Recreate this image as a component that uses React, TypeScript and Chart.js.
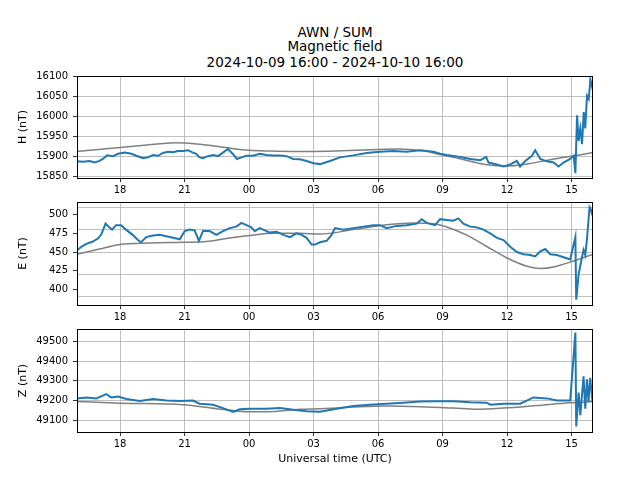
import { useEffect, useRef } from "react"
import { Chart, registerables } from "chart.js"

Chart.register(...registerables)

// hours after 2024-10-09 16:00 UTC
const tickHours = [2, 5, 8, 11, 14, 17, 20, 23]
const tickLabels = ["18", "21", "00", "03", "06", "09", "12", "15"]

const hTicks = [15850, 15900, 15950, 16000, 16050, 16100]
const eTicks = [400, 425, 450, 475, 500]
const eGrid = [390, 420, 450, 480, 510]
const zTicks = [49100, 49200, 49300, 49400, 49500]

const hTimes = [0, 0.28, 0.59, 0.82, 1.05, 1.2, 1.4, 1.68, 1.91, 2.22, 2.53, 2.76, 3.07, 3.3, 3.54, 3.77, 4.0, 4.23, 4.47, 4.7, 4.93, 5.16, 5.39, 5.55, 5.7, 5.86, 6.09, 6.33, 6.56, 6.79, 7.02, 7.26, 7.44, 7.65, 7.88, 8.19, 8.5, 8.82, 9.13, 9.44, 9.75, 10.06, 10.37, 10.68, 11.0, 11.3, 11.77, 12.23, 12.85, 13.47, 14.09, 14.71, 15.33, 15.96, 16.58, 16.89, 17.2, 17.82, 18.29, 18.76, 19.03, 19.14, 19.53, 19.84, 20.15, 20.46, 20.61, 20.85, 21.16, 21.31, 21.55, 21.86, 22.17, 22.4, 22.63, 22.94, 23.1, 23.18, 23.26, 23.33, 23.41, 23.49, 23.57, 23.64, 23.72, 23.8, 23.88, 23.95, 24]
const hValues = [15887, 15886, 15888, 15884, 15888, 15893, 15902, 15900, 15906, 15909, 15906, 15901, 15895, 15897, 15903, 15901, 15908, 15911, 15910, 15913, 15913, 15915, 15909, 15906, 15897, 15895, 15900, 15903, 15900, 15909, 15918, 15905, 15893, 15897, 15901, 15901, 15906, 15903, 15902, 15902, 15900, 15893, 15892, 15888, 15882, 15880, 15888, 15897, 15902, 15908, 15911, 15913, 15911, 15915, 15911, 15906, 15903, 15898, 15893, 15890, 15898, 15884, 15879, 15874, 15879, 15888, 15874, 15888, 15901, 15915, 15893, 15887, 15884, 15874, 15884, 15893, 15901, 15857, 16003, 15938, 15970, 15930, 16011, 15970, 16052, 16044, 16093, 16077, 16090]
const hBaseTimes = [0, 1, 2, 3, 4, 4.5, 5, 6, 7, 8, 9, 10, 11, 12, 13, 14, 15, 16, 17, 18, 19, 20, 21, 22, 23, 24]
const hBaseValues = [15912, 15917, 15922, 15927, 15932, 15934, 15933, 15928, 15921, 15915, 15913, 15912, 15912, 15913, 15915, 15917, 15918, 15914, 15903, 15891, 15879, 15875, 15881, 15891, 15900, 15909]

const eTimes = [0, 0.2, 0.43, 0.74, 0.97, 1.12, 1.33, 1.5, 1.63, 1.82, 2.05, 2.28, 2.59, 2.83, 2.98, 3.22, 3.53, 3.84, 4.15, 4.47, 4.78, 5.01, 5.24, 5.47, 5.67, 5.86, 6.17, 6.48, 6.79, 7.1, 7.41, 7.65, 7.88, 8.11, 8.27, 8.5, 8.74, 8.97, 9.28, 9.6, 9.9, 10.21, 10.45, 10.68, 10.91, 11.07, 11.3, 11.61, 11.84, 12.0, 12.39, 12.85, 13.32, 13.78, 14.09, 14.4, 14.87, 15.33, 15.8, 16.03, 16.27, 16.65, 16.89, 17.2, 17.51, 17.74, 17.97, 18.29, 18.6, 18.9, 19.22, 19.53, 19.84, 20.15, 20.46, 20.77, 21.08, 21.31, 21.55, 21.78, 22.01, 22.32, 22.63, 22.94, 23.18, 23.22, 23.33, 23.48, 23.56, 23.64, 23.72, 23.84, 23.9, 24]
const eValues = [452, 457, 461, 464, 468, 473, 488, 483, 480, 486, 486, 480, 473, 466, 463, 470, 472, 473, 471, 469, 467, 478, 480, 479, 465, 478, 478, 473, 478, 482, 484, 489, 486, 483, 478, 482, 479, 476, 477, 473, 470, 475, 473, 469, 460, 460, 463, 465, 473, 482, 480, 482, 484, 486, 486, 482, 485, 486, 488, 494, 489, 486, 494, 493, 492, 495, 488, 484, 483, 480, 475, 469, 466, 457, 450, 447, 446, 444, 451, 454, 447, 446, 443, 440, 470, 386, 420, 442, 453, 446, 468, 510, 507, 497]
const eBaseTimes = [0, 1.05, 2, 3.38, 4.93, 6.02, 6.95, 8.04, 9.13, 10.37, 11.3, 12.85, 14.4, 15.65, 16.58, 17.2, 18.13, 19.06, 20.0, 20.93, 21.55, 22.17, 23.1, 24]
const eBaseValues = [447, 454, 460, 462, 463, 464, 468, 472, 475, 475, 474, 480, 486.5, 489, 488, 483.5, 472.6, 457.4, 442, 431, 428, 430, 438, 447]

const zTimes = [0, 0.43, 0.9, 1.2, 1.36, 1.59, 1.91, 2.3, 2.92, 3.54, 4.16, 4.78, 5.39, 5.7, 6.33, 6.79, 7.26, 7.57, 8.03, 8.81, 9.44, 10.06, 10.68, 11.3, 12.08, 12.85, 13.63, 14.4, 15.18, 15.96, 16.73, 17.51, 18.29, 19.06, 19.22, 19.84, 20.61, 20.92, 21.23, 21.86, 22.32, 22.94, 23.18, 23.22, 23.33, 23.41, 23.56, 23.64, 23.72, 23.79, 23.87, 23.95, 24]
const zValues = [49211, 49215, 49211, 49225, 49233, 49216, 49220, 49208, 49198, 49208, 49200, 49198, 49200, 49184, 49179, 49162, 49143, 49156, 49159, 49159, 49162, 49154, 49146, 49143, 49159, 49172, 49179, 49184, 49189, 49195, 49197, 49197, 49192, 49189, 49179, 49184, 49184, 49200, 49216, 49211, 49200, 49200, 49544, 49069, 49241, 49126, 49323, 49159, 49307, 49192, 49315, 49225, 49257]
const zBaseTimes = [0, 2, 4.94, 6.49, 8, 8.8, 10.37, 11.3, 12.85, 14.4, 15.96, 17.51, 18.6, 19.84, 21.39, 22.94, 24]
const zBaseValues = [49195, 49187, 49179, 49159, 49143, 49143, 49156, 49159, 49167, 49172, 49169, 49162, 49156, 49162, 49175, 49189, 49195]

const FONT = "DejaVu Sans"

const frame = {
  id: "frame",
  afterDraw(c: any) {
    const { ctx, chartArea: a } = c
    ctx.save()
    ctx.strokeStyle = "#000"
    ctx.lineWidth = 1
    ctx.strokeRect(Math.round(a.left) + 0.5, Math.round(a.top) + 0.5, Math.round(a.width) - 1, Math.round(a.height))
    ctx.restore()
  },
}

const pts = (t: number[], v: number[]) => t.map((x, i) => ({ x, y: v[i] }))

type PanelProps = {
  top: number
  area: number
  xH: number
  yTitle: string
  xTitle?: string
  min: number
  max: number
  yTicks: number[]
  yGrid?: number[]
  t: number[]
  v: number[]
  bt: number[]
  bv: number[]
}

function Panel(p: PanelProps) {
  const ref = useRef<HTMLCanvasElement>(null)
  const h = 8 + p.area + p.xH

  useEffect(() => {
    if (!ref.current) return
    const tickFont = { family: FONT, size: 10 }
    const labelFont = { family: FONT, size: 11 }

    const scales: any = {
      x: {
        type: "linear",
        min: 0,
        max: 24,
        afterBuildTicks: (s: any) => { s.ticks = tickHours.map((v) => ({ value: v })) },
        afterFit: (s: any) => { s.height = p.xH },
        ticks: {
          autoSkip: false,
          maxRotation: 0,
          padding: 2,
          color: "#000",
          font: tickFont,
          callback: (v: any) => tickLabels[tickHours.indexOf(Number(v))],
        },
        grid: { color: "#b0b0b0", tickColor: "#000", tickLength: 4, lineWidth: 0.8 },
        border: { display: false },
        title: p.xTitle
          ? { display: true, text: p.xTitle, color: "#000", font: labelFont, padding: { top: 0, bottom: 2 } }
          : { display: false },
      },
      y: {
        min: p.min,
        max: p.max,
        afterBuildTicks: (s: any) => { s.ticks = p.yTicks.map((v) => ({ value: v })) },
        afterFit: (s: any) => { s.width = 77 },
        ticks: { color: "#000", font: tickFont, padding: 5, callback: (v: any) => String(v) },
        grid: {
          color: "#b0b0b0",
          tickColor: "#000",
          tickLength: 4,
          lineWidth: 0.8,
          drawOnChartArea: !p.yGrid,
        },
        border: { display: false },
        title: { display: true, text: p.yTitle, color: "#000", font: labelFont, padding: { top: 17, bottom: 0 } },
      },
    }
    if (p.yGrid) {
      const g = p.yGrid
      scales.yg = {
        position: "right",
        min: p.min,
        max: p.max,
        afterBuildTicks: (s: any) => { s.ticks = g.map((v) => ({ value: v })) },
        afterFit: (s: any) => { s.width = 0 },
        ticks: { display: false },
        grid: { color: "#b0b0b0", drawTicks: false, lineWidth: 0.8 },
        border: { display: false },
      }
    }

    const chart = new Chart(ref.current, {
      type: "line",
      data: {
        datasets: [
          {
            data: pts(p.t, p.v),
            borderColor: "#1f77b4",
            borderWidth: 2,
            pointRadius: 0,
            tension: 0,
          },
          {
            data: pts(p.bt, p.bv),
            borderColor: "#808080",
            borderWidth: 1.5,
            pointRadius: 0,
            cubicInterpolationMode: "monotone",
          },
        ],
      },
      options: {
        animation: false,
        responsive: false,
        parsing: false,
        layout: { padding: { top: 8, left: 0, right: 47, bottom: 0 } },
        plugins: { legend: { display: false }, tooltip: { enabled: false } },
        scales,
      },
      plugins: [frame],
    } as any)

    return () => chart.destroy()
  }, [])

  return (
    <canvas
      ref={ref}
      width={640}
      height={h}
      style={{ position: "absolute", left: 0, top: p.top, width: 640, height: h }}
    />
  )
}

const titleStyle = (top: number): any => ({
  position: "absolute",
  left: 0,
  top,
  width: 670,
  textAlign: "center",
  fontFamily: FONT,
  fontSize: 13.5,
  lineHeight: "15px",
  color: "#000",
})

export default function App() {
  return (
    <div style={{ position: "absolute", left: 0, top: 0, width: 640, height: 480, background: "#fff" }}>
      <div style={titleStyle(24.5)}>AWN / SUM</div>
      <div style={titleStyle(38.5)}>Magnetic field</div>
      <div style={titleStyle(54.5)}>2024-10-09 16:00 - 2024-10-10 16:00</div>
      <Panel top={65} area={105} xH={20} yTitle="H (nT)" min={15845} max={16102}
        yTicks={hTicks} t={hTimes} v={hValues} bt={hBaseTimes} bv={hBaseValues} />
      <Panel top={191} area={106} xH={20} yTitle="E (nT)" min={379} max={517}
        yTicks={eTicks} yGrid={eGrid} t={eTimes} v={eValues} bt={eBaseTimes} bv={eBaseValues} />
      <Panel top={318} area={106} xH={36} yTitle="Z (nT)" xTitle="Universal time (UTC)" min={49041} max={49562}
        yTicks={zTicks} t={zTimes} v={zValues} bt={zBaseTimes} bv={zBaseValues} />
    </div>
  )
}
